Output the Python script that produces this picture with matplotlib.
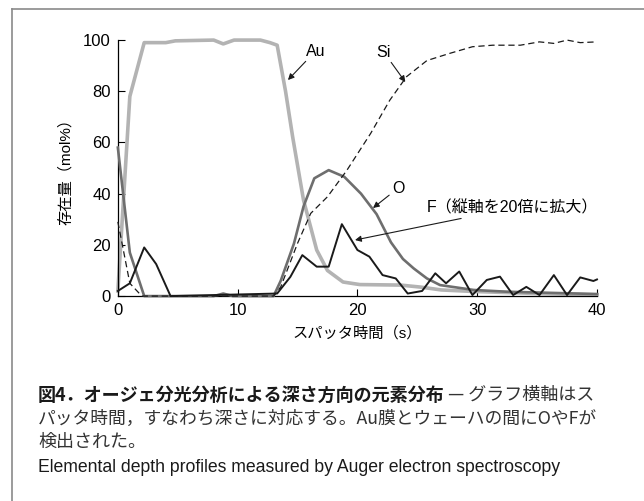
import matplotlib
matplotlib.use('Agg')
import matplotlib.pyplot as plt
from matplotlib.lines import Line2D

plt.rcParams['font.family'] = ['Liberation Sans', 'Noto Sans CJK JP', 'DejaVu Sans']

# data (sputter time in s, amount in mol%)
au_t = [0, 1.0, 2.2, 4.0, 4.8, 8.0, 8.8, 9.7, 11.9, 12.7, 13.3, 14.0, 14.6, 15.5, 16.6, 17.5, 18.8, 20.2, 23.6, 25.3, 27.0, 29.7, 35.0, 40.0]
au_v = [2, 78, 99, 99, 99.7, 100, 98.5, 100, 100, 99, 98, 80, 62, 37.5, 18, 10, 5.5, 4.5, 4.3, 3.5, 2.4, 1.8, 1.0, 0.5]

o_t = [0, 1.0, 2.2, 8.0, 8.8, 9.6, 13.0, 13.6, 14.7, 15.5, 16.4, 17.6, 18.9, 20.3, 21.6, 22.8, 23.8, 24.7, 25.8, 26.9, 29.7, 32.5, 40.0]
o_v = [58, 17, 0, 0, 1, 0, 0, 6, 20.5, 35, 46, 49.2, 46.6, 40, 32, 21, 14.5, 10.8, 6.9, 4.3, 2.4, 1.7, 0.8]

si_t = [0, 1.0, 2.0, 13.0, 13.6, 15.0, 16.1, 17.5, 19.1, 21.1, 22.7, 24.1, 25.8, 27.7, 29.6, 31.3, 33.6, 35.2, 36.4, 37.5, 38.6, 40.0]
si_v = [29, 5, 0, 0, 3.6, 20.6, 32.3, 38.8, 49, 63.5, 76.5, 85.7, 92, 94.8, 97.4, 98, 98, 99.3, 98.7, 100, 99, 99.3]

f_t = [0, 1.0, 2.2, 3.2, 4.4, 13.3, 14.4, 15.4, 16.6, 17.6, 18.7, 20.0, 21.0, 22.1, 23.2, 24.2, 25.4, 26.5, 27.4, 28.5, 29.6, 30.8, 31.9, 33.0, 34.1, 35.2, 36.4, 37.5, 38.6, 39.7, 40.0]
f_v = [2, 5, 19, 12.5, 0, 1, 7.5, 16, 11.5, 11.5, 28.1, 18, 15.4, 8.2, 6.9, 1, 2, 8.9, 5, 9.6, 0.4, 6.3, 7.6, 0.4, 3.6, 0.4, 8.2, 0.4, 7.3, 5.9, 6.5]

x_ticks = [0, 10, 20, 30, 40]
y_ticks = [0, 20, 40, 60, 80, 100]

fig = plt.figure(figsize=(6.44, 5.01), dpi=100)
ax = fig.add_axes([0.183, 0.409, 0.744, 0.511])

ax.plot(au_t, au_v, color='#b3b3b3', lw=2.6, clip_on=False, zorder=2)
ax.plot(o_t, o_v, color='#6e6e6e', lw=1.9, clip_on=False, zorder=3)
ax.plot(si_t, si_v, color='#1a1a1a', lw=0.9, ls=(0, (5, 3)), clip_on=False, zorder=4)
ax.plot(f_t, f_v, color='#1a1a1a', lw=1.4, clip_on=False, zorder=5)

ax.set_xlim(0, 40)
ax.set_ylim(0, 100)
ax.set_xticks(x_ticks)
ax.set_yticks(y_ticks)
ax.tick_params(direction='in', length=5, width=0.8, labelsize=12, pad=5)
for s in ['top', 'right']:
    ax.spines[s].set_visible(False)
for s in ['left', 'bottom']:
    ax.spines[s].set_linewidth(0.9)

ax.set_xlabel('スパッタ時間（s）', fontsize=11, labelpad=6)
ax.set_ylabel('存在量（mol%）', fontsize=11, labelpad=7)

arrow = dict(arrowstyle='-|>', color='#1a1a1a', lw=0.8, mutation_scale=9, shrinkA=0, shrinkB=0)
ax.annotate('Au', xy=(14.2, 84.4), xytext=(16.5, 95.7), fontsize=11.5, ha='center', va='center', arrowprops=arrow)
ax.annotate('Si', xy=(24.0, 83.6), xytext=(22.2, 95.3), fontsize=11.5, ha='center', va='center', arrowprops=arrow)
ax.annotate('O', xy=(21.3, 34.4), xytext=(23.4, 42.2), fontsize=11.5, ha='center', va='center', arrowprops=arrow)
ax.annotate('F（縦軸を20倍に拡大）', xy=(19.8, 21.9), xytext=(25.8, 34.4), fontsize=11.5, ha='left', va='center', arrowprops=arrow)

# frame lines (top and left)
fig.add_artist(Line2D([12 / 644, 1], [1 - 9 / 501, 1 - 9 / 501], color='#8a8a8a', lw=1.2))
fig.add_artist(Line2D([12 / 644, 12 / 644], [0, 1 - 9 / 501], color='#8a8a8a', lw=1.2))

# caption
cap_font = ['Noto Sans CJK JP', 'DejaVu Sans']
x0 = 38 / 644
t1 = fig.text(x0, 1 - 395 / 501, '図4．オージェ分光分析による深さ方向の元素分布', fontsize=13, fontweight='bold',
              family=cap_font, va='center', color='#1a1a1a')
fig.canvas.draw()
bb = t1.get_window_extent(fig.canvas.get_renderer())
fig.text(bb.x1 / 644 + 0.005, 1 - 395 / 501, '— グラフ横軸はス', fontsize=13, family=cap_font, va='center', color='#333333')
fig.text(x0, 1 - 419 / 501, 'パッタ時間，すなわち深さに対応する。Au膜とウェーハの間にOやFが', fontsize=12.8, family=cap_font,
         va='center', color='#333333')
fig.text(x0, 1 - 442 / 501, '検出された。', fontsize=13, family=cap_font, va='center', color='#333333')
fig.text(x0, 1 - 468 / 501, 'Elemental depth profiles measured by Auger electron spectroscopy', fontsize=12.7,
         family=['Liberation Sans', 'DejaVu Sans'], va='center', color='#1a1a1a')

fig.savefig('out.png', dpi=100, facecolor='white')
